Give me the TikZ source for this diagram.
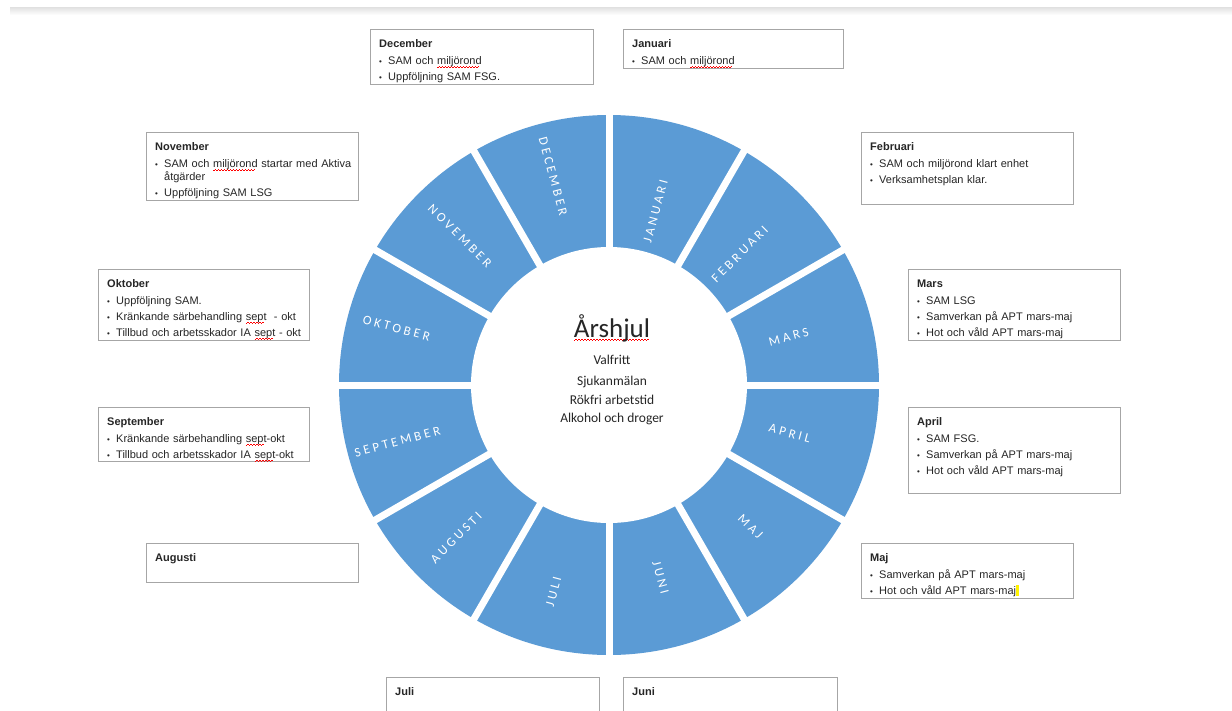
\documentclass[tikz,border=0pt]{standalone}
\usepackage{fontspec}
\usepackage{xcolor}
\usetikzlibrary{calc}
\setmainfont{Liberation Sans}
\newfontfamily\wheelfont{Carlito}
\newfontfamily\wheelcaps[LetterSpace=24]{Carlito}
\definecolor{wheelBlue}{HTML}{5B9BD5}
\definecolor{boxGray}{HTML}{A6A6A6}
\definecolor{textGray}{HTML}{262626}
\providecommand{\wavebit}{\hbox{{\color{red}\rule{1.5pt}{0.6pt}\raisebox{1pt}{\rule{1.5pt}{0.6pt}}}}}
\providecommand{\spellerr}[1]{\setbox0\hbox{#1}\rlap{\raisebox{-3.5pt}[0pt][0pt]{\hbox to \wd0{\leaders\wavebit\hfill}}}\box0\relax}
\providecommand{\mtitle}[1]{\noindent\rule{0pt}{10pt}\textbf{#1}\par\vspace{1pt}}
\providecommand{\itm}[1]{\par\vspace{3pt}\noindent\hangindent=9pt\relax\hangafter=1\relax\makebox[9pt][l]{\fontsize{8}{8}\selectfont\textbullet}#1}

\begin{document}
\begin{tikzpicture}[
    x=1pt,y=-1pt,
    every node/.style={text=textGray},
    monthbox/.style={rectangle,draw=boxGray,fill=white,line width=0.8pt,
                     anchor=north west,inner sep=0pt},
    monthtext/.style={anchor=north west,inner sep=0pt,align=left,
                      font=\fontsize{11}{13}\selectfont},
    seglabel/.style={font=\wheelcaps\fontsize{13}{15}\selectfont,text=white,inner sep=0pt},
    hubtitle/.style={anchor=base,font=\wheelfont\fontsize{27}{32}\selectfont},
    hubline/.style={anchor=base,font=\wheelfont\fontsize{13.5}{16}\selectfont}
  ]
  \useasboundingbox (0,0) rectangle (1232,710);
  \fill[white] (0,0) rectangle (1232,710);
  \shade[top color=black!12,bottom color=white] (10,7) rectangle (1232,15);

  %% The wheel
  \coordinate (c) at (609,385);
  \fill[wheelBlue] (c) circle[radius=270pt];
  \fill[white] (c) circle[radius=138pt];
  \foreach \a in {0,30,...,150}
    \draw[white,line width=7pt] ($(c)+(\a:274)$) -- ($(c)+(\a+180:274)$);

  %% Month names on the segments (angles measured downwards)
  \foreach \ang/\rad/\rot/\mname in {-75/180/75/JANUARI,-45/185/45/FEBRUARI,
      -15/186/15/MARS,15/187/-15/APRIL,45/200/-45/MAJ,75/199/-75/JUNI,
      105/214/75/JULI,135/216/45/AUGUSTI,165/219/15/SEPTEMBER,
      -165/220/-15/OKTOBER,-135/211/-45/NOVEMBER,-105/216/-75/DECEMBER}
    \node[seglabel,rotate=\rot] (seg\mname) at ($(c)+(\ang:\rad)$) {\mname};

  %% Hub texts
  \node[hubtitle] (hub) at (612,337) {\spellerr{Årshjul}};
  \node[hubline] (hub1) at (612,364) {Valfritt};
  \node[hubline] (hub2) at (612,385) {Sjukanmälan};
  \node[hubline] (hub3) at (612,404) {Rökfri arbetstid};
  \node[hubline] (hub4) at (612,422) {Alkohol och droger};

  %% Month boxes
  \node[monthbox,minimum width=223pt,minimum height=55pt] (bdec) at (370,29) {};
  \node[monthtext,text width=220pt] (tdec) at ([shift={(9,8)}]bdec.north west)
    {\mtitle{December}\itm{SAM och \spellerr{miljörond}}\itm{Uppföljning SAM FSG.}};
  \node[monthbox,minimum width=220pt,minimum height=39pt] (bjan) at (623,29) {};
  \node[monthtext,text width=215pt] (tjan) at ([shift={(9,8)}]bjan.north west)
    {\mtitle{Januari}\itm{SAM och \spellerr{miljörond}}};
  \node[monthbox,minimum width=212pt,minimum height=68pt] (bnov) at (146,132) {};
  \node[monthtext,text width=210pt] (tnov) at ([shift={(9,8)}]bnov.north west)
    {\mtitle{November}\itm{SAM och \spellerr{miljörond} startar med Aktiva\newline åtgärder}\itm{Uppföljning SAM LSG}};
  \node[monthbox,minimum width=212pt,minimum height=72pt] (bfeb) at (861,132) {};
  \node[monthtext,text width=210pt] (tfeb) at ([shift={(9,8)}]bfeb.north west)
    {\mtitle{Februari}\itm{SAM och miljörond klart enhet}\itm{Verksamhetsplan klar.}};
  \node[monthbox,minimum width=211pt,minimum height=71pt] (bokt) at (98,269) {};
  \node[monthtext,text width=210pt] (tokt) at ([shift={(9,8)}]bokt.north west)
    {\mtitle{Oktober}\itm{Uppföljning SAM.}\itm{Kränkande särbehandling \spellerr{sept}\ \ - okt}\itm{Tillbud och arbetsskador IA \spellerr{sept} - okt}};
  \node[monthbox,minimum width=212pt,minimum height=71pt] (bmar) at (908,269) {};
  \node[monthtext,text width=210pt] (tmar) at ([shift={(9,8)}]bmar.north west)
    {\mtitle{Mars}\itm{SAM LSG}\itm{Samverkan på APT mars-maj}\itm{Hot och våld APT mars-maj}};
  \node[monthbox,minimum width=211pt,minimum height=54pt] (bsep) at (98,407) {};
  \node[monthtext,text width=210pt] (tsep) at ([shift={(9,8)}]bsep.north west)
    {\mtitle{September}\itm{Kränkande särbehandling \spellerr{sept}-okt}\itm{Tillbud och arbetsskador IA \spellerr{sept}-okt}};
  \node[monthbox,minimum width=212pt,minimum height=86pt] (bapr) at (908,407) {};
  \node[monthtext,text width=210pt] (tapr) at ([shift={(9,8)}]bapr.north west)
    {\mtitle{April}\itm{SAM FSG.}\itm{Samverkan på APT mars-maj}\itm{Hot och våld APT mars-maj}};
  \node[monthbox,minimum width=212pt,minimum height=39pt] (baug) at (146,543) {};
  \node[monthtext,text width=210pt] (taug) at ([shift={(9,8)}]baug.north west)
    {\mtitle{Augusti}};
  \node[monthbox,minimum width=212pt,minimum height=55pt] (bmaj) at (861,543) {};
  \node[monthtext,text width=210pt] (tmaj) at ([shift={(9,8)}]bmaj.north west)
    {\mtitle{Maj}\itm{Samverkan på APT mars-maj}\itm{Hot och våld APT mars-maj{\color{yellow}\rule[-2pt]{2.5pt}{11pt}}}};
  \node[monthbox,minimum width=213pt,minimum height=45pt] (bjul) at (386,677) {};
  \node[monthtext,text width=210pt] (tjul) at ([shift={(9,8)}]bjul.north west)
    {\mtitle{Juli}};
  \node[monthbox,minimum width=214pt,minimum height=45pt] (bjun) at (623,677) {};
  \node[monthtext,text width=210pt] (tjun) at ([shift={(9,8)}]bjun.north west)
    {\mtitle{Juni}};
\end{tikzpicture}
\end{document}
